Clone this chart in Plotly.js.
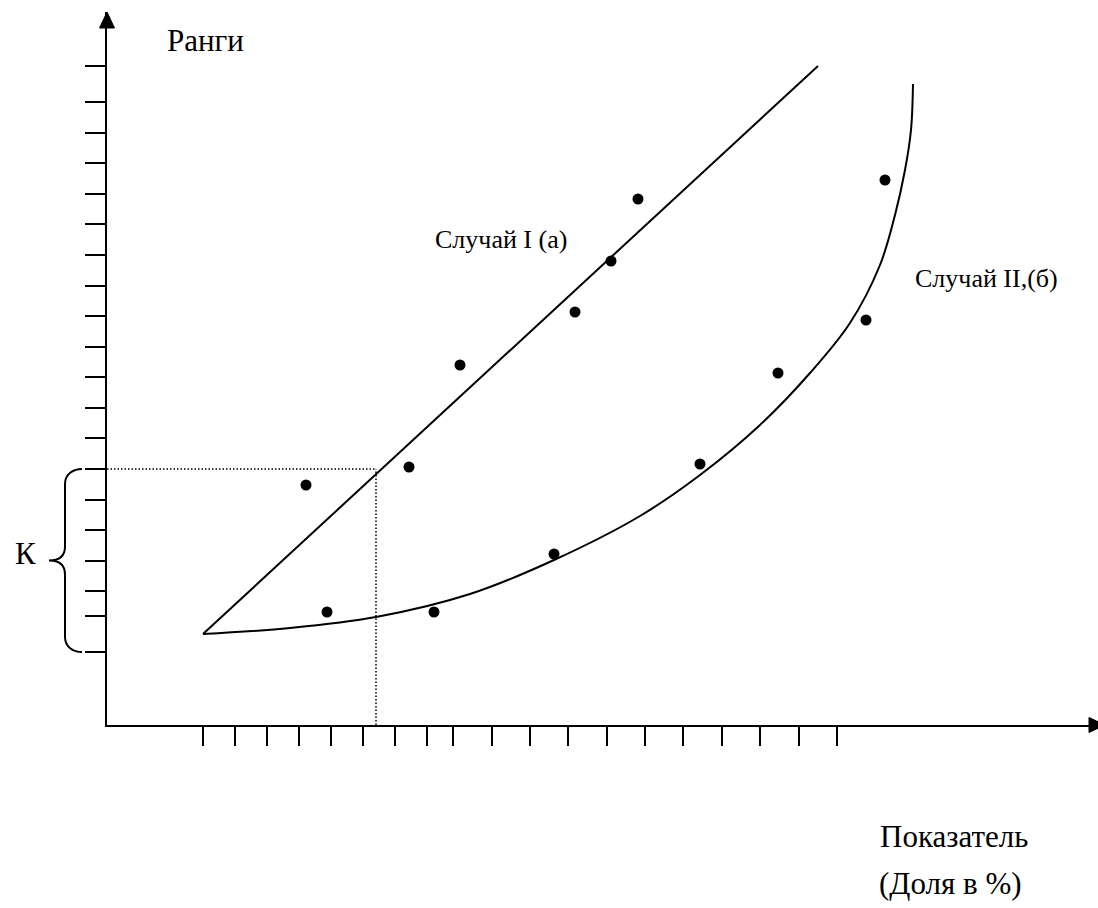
<!DOCTYPE html>
<html>
<head>
<meta charset="utf-8">
<script src="https://cdn.plot.ly/plotly-3.0.1.min.js"></script>
<style>
  html, body { margin: 0; padding: 0; background: #ffffff; }
  #chart { width: 1098px; height: 908px; }
</style>
</head>
<body>
<div id="chart"></div>
<script>
// ---- data (abstract units) ----
const xTicks = [9.6, 12.8, 16.0, 19.2, 22.4, 25.6, 28.8, 32.0, 34.6, 38.5, 42.3, 46.1, 50.0, 53.8, 57.6, 61.5, 65.3, 69.2, 73.0];
const yTicks = [65.9, 62.3, 59.2, 56.2, 53.1, 50.1, 47.0, 43.9, 40.9, 37.8, 34.8, 31.7, 28.7, 25.6, 22.5, 19.5, 16.4, 13.4, 10.9, 7.3];

const case1X = [19.9, 22.0, 30.2, 35.3, 46.8, 50.4, 53.1];
const case1Y = [24.0, 11.3, 25.8, 36.0, 41.3, 46.4, 52.6];
const case2X = [32.7, 44.7, 59.3, 67.1, 75.9, 77.8];
const case2Y = [11.3, 17.1, 26.1, 35.2, 40.5, 54.5];

const line1X = [9.6, 71.1];
const line1Y = [9.1, 65.9];

const curve2X = [9.6, 18.3, 26.9, 36.3, 44.7, 53.3, 59.3, 65.3, 70.3, 74.3, 77.3, 78.8, 79.8, 80.4, 80.6];
const curve2Y = [9.1, 9.7, 10.8, 13.1, 16.5, 20.9, 25.0, 30.0, 35.2, 40.2, 46.0, 51.0, 55.5, 59.5, 64.1];

const kX = 26.9;             // dotted guide: x position
const kY = yTicks[13];       // dotted guide: level (top of brace)
const kBottom = yTicks[19];  // bottom of brace

const labels = {
  yTitle: 'Ранги',
  case1: 'Случай I (а)',
  case2: 'Случай II,(б)',
  k: 'К',
  xTitle1: 'Показатель',
  xTitle2: '(Доля в %)'
};

// ---- layout constants ----
const X_RANGE = [0, 99.1];
const Y_RANGE = [0, 71.3];
const FONT = 'Liberation Serif, Times New Roman, serif';

function yPaper(v) { return (v - Y_RANGE[0]) / (Y_RANGE[1] - Y_RANGE[0]); }

const traces = [
  { x: line1X, y: line1Y, mode: 'lines', line: { color: '#000', width: 2 }, hoverinfo: 'skip' },
  { x: curve2X, y: curve2Y, mode: 'lines', line: { color: '#000', width: 2, shape: 'spline', smoothing: 1 }, hoverinfo: 'skip' },
  { x: [0, kX], y: [kY, kY], mode: 'lines', line: { color: '#000', width: 1.5, dash: '1.5px,2px' }, hoverinfo: 'skip' },
  { x: [kX, kX], y: [0, kY], mode: 'lines', line: { color: '#000', width: 1.5, dash: '1.5px,2px' }, hoverinfo: 'skip' },
  { x: case1X, y: case1Y, mode: 'markers', marker: { color: '#000', size: 11 }, hoverinfo: 'skip' },
  { x: case2X, y: case2Y, mode: 'markers', marker: { color: '#000', size: 11 }, hoverinfo: 'skip' }
];

// curly brace (x in pixels left of the y axis, y in paper units)
const yt = yPaper(kY), yb = yPaper(kBottom), ym = (yt + yb) / 2;
const r = 15 / 713, rm = 14 / 713;
const bracePath =
  'M-25,' + yt +
  ' C-33,' + yt + ' -42,' + (yt - r * 0.3) + ' -42,' + (yt - r) +
  ' L-42,' + (ym + rm) +
  ' C-42,' + (ym + rm * 0.3) + ' -48,' + ym + ' -58,' + ym +
  ' C-48,' + ym + ' -42,' + (ym - rm * 0.3) + ' -42,' + (ym - rm) +
  ' L-42,' + (yb + r) +
  ' C-42,' + (yb + r * 0.3) + ' -33,' + yb + ' -25,' + yb;

const layout = {
  width: 1098,
  height: 908,
  margin: { l: 107, r: 0, t: 12, b: 183, pad: 0 },
  paper_bgcolor: '#ffffff',
  plot_bgcolor: '#ffffff',
  showlegend: false,
  font: { family: FONT, color: '#000' },
  xaxis: {
    range: X_RANGE, showgrid: false, zeroline: false,
    showline: true, linecolor: '#000', linewidth: 2,
    ticks: 'outside', ticklen: 19, tickwidth: 2, tickcolor: '#000',
    tickmode: 'array', tickvals: xTicks, showticklabels: false, fixedrange: true
  },
  yaxis: {
    range: Y_RANGE, showgrid: false, zeroline: false,
    showline: true, linecolor: '#000', linewidth: 2,
    ticks: 'outside', ticklen: 20, tickwidth: 2, tickcolor: '#000',
    tickmode: 'array', tickvals: yTicks, showticklabels: false, fixedrange: true
  },
  shapes: [
    { type: 'path', xref: 'paper', yref: 'paper', xsizemode: 'pixel', xanchor: 0,
      path: bracePath, line: { color: '#000', width: 2 } },
    // arrowhead of the vertical axis
    { type: 'path', xref: 'paper', yref: 'paper', xsizemode: 'pixel', ysizemode: 'pixel',
      xanchor: 0, yanchor: 1, path: 'M-7.5,-16 L7.5,-16 L0,0 Z',
      fillcolor: '#000', line: { color: '#000', width: 1 } },
    // arrowhead of the horizontal axis
    { type: 'path', xref: 'paper', yref: 'paper', xsizemode: 'pixel', ysizemode: 'pixel',
      xanchor: 1, yanchor: 0, path: 'M-9,7.5 L-9,-7.5 L7,0 Z',
      fillcolor: '#000', line: { color: '#000', width: 1 } }
  ],
  annotations: [
    { x: 5.8, y: 68.5, xref: 'x', yref: 'y', xanchor: 'left', yanchor: 'middle',
      text: labels.yTitle, showarrow: false, font: { size: 31 } },
    { x: 32.6, y: 48.6, xref: 'x', yref: 'y', xanchor: 'left', yanchor: 'middle',
      text: labels.case1, showarrow: false, font: { size: 26 } },
    { x: 80.6, y: 44.7, xref: 'x', yref: 'y', xanchor: 'left', yanchor: 'middle',
      text: labels.case2, showarrow: false, font: { size: 26 } },
    { x: -0.0949, y: 0.2412, xref: 'paper', yref: 'paper', xanchor: 'left', yanchor: 'middle',
      text: labels.k, showarrow: false, font: { size: 31 } },
    { x: 0.778, y: -0.157, xref: 'paper', yref: 'paper', xanchor: 'left', yanchor: 'middle',
      text: labels.xTitle1, showarrow: false, font: { size: 31 } },
    { x: 0.777, y: -0.2216, xref: 'paper', yref: 'paper', xanchor: 'left', yanchor: 'middle',
      text: labels.xTitle2, showarrow: false, font: { size: 31 } }
  ]
};

Plotly.newPlot('chart', traces, layout, { displayModeBar: false, staticPlot: true });
</script>
</body>
</html>
